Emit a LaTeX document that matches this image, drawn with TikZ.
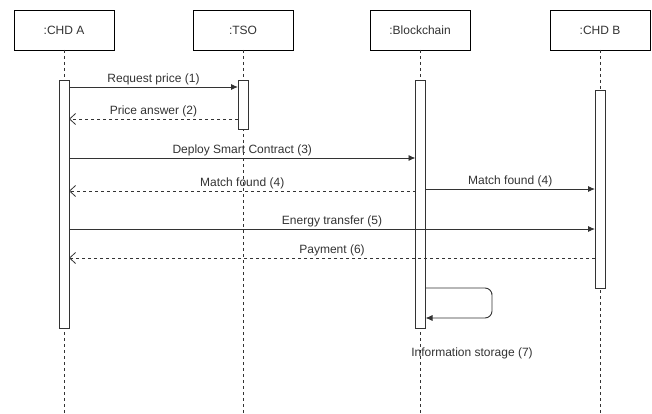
\documentclass[tikz,border=0pt]{standalone}
\usepackage{fontspec}
\setmainfont{Liberation Sans}
\usetikzlibrary{arrows.meta}
\definecolor{ink}{HTML}{333333}

\tikzset{
  actor/.style={draw=black,fill=white,minimum width=100pt,minimum height=40pt,
    inner sep=0pt,outer sep=0pt,line width=0.8pt},
  bar/.style={draw=ink,fill=white,minimum width=10pt,inner sep=0pt,outer sep=0pt,line width=0.8pt},
  lifeline/.style={draw=ink,line width=0.8pt,dash pattern=on 3pt off 3pt},
  msg/.style={draw=ink,line width=0.9pt,-{Latex[length=7pt,width=6pt]}},
  reply/.style={draw=ink,line width=0.8pt,dash pattern=on 3pt off 3pt,
    -{Straight Barb[length=6pt,width=11pt]}},
  lbl/.style={text=ink,font=\fontsize{12}{14}\selectfont,inner sep=1.5pt}
}

\begin{document}
\begin{tikzpicture}[x=1pt,y=-1pt]
  \useasboundingbox (0,0) rectangle (652,414);
  % participants
  \node[actor,lbl,inner sep=0pt] (chdA) at (64,30) {:CHD A};
  \node[actor,lbl,inner sep=0pt] (tso) at (243,30) {:TSO};
  \node[actor,lbl,inner sep=0pt] (chain) at (420,30) {:Blockchain};
  \node[actor,lbl,inner sep=0pt] (chdB) at (600,30) {:CHD B};
  \coordinate (bottom) at (0,414);
  % lifelines
  \foreach \p in {chdA,tso,chain,chdB}
    \draw[lifeline] (\p) -- (\p |- bottom);
  % activation bars
  \node[bar,minimum height=248pt] (actA) at (64,204) {};
  \node[bar,minimum height=49pt] (actT) at (243,104.5) {};
  \node[bar,minimum height=248pt] (actC) at (420.5,204) {};
  \node[bar,minimum height=198pt] (actB) at (600,189) {};
  % message rows
  \coordinate (y1) at (0,87);
  \coordinate (y2) at (0,119);
  \coordinate (y3) at (0,158);
  \coordinate (y4) at (0,191);
  \coordinate (y4b) at (0,189);
  \coordinate (y5) at (0,229);
  \coordinate (y6) at (0,258);
  \coordinate (y7a) at (0,288);
  \coordinate (y7b) at (0,318);
  \coordinate (loop) at (492,300);
  % messages
  \draw[msg] (actA.east |- y1) -- (actT.west |- y1) node[lbl,midway,above]{Request price (1)};
  \draw[reply] (actT.west |- y2) -- (actA.east |- y2) node[lbl,midway,above]{Price answer (2)};
  \draw[msg] (actA.east |- y3) -- (actC.west |- y3) node[lbl,midway,above]{Deploy Smart Contract (3)};
  \draw[reply] (actC.west |- y4) -- (actA.east |- y4) node[lbl,midway,above]{Match found (4)};
  \draw[msg] (actC.east |- y4b) -- (actB.west |- y4b) node[lbl,midway,above]{Match found (4)};
  \draw[msg] (actA.east |- y5) -- (actB.west |- y5) node[lbl,midway,above]{Energy transfer (5)};
  \draw[reply] (actB.west |- y6) -- (actA.east |- y6) node[lbl,midway,above]{Payment (6)};
  % self call
  \draw[msg,rounded corners=7pt] (actC.east |- y7a) -| (loop) |- (actC.east |- y7b);
  \node[lbl] (store) at (472,353) {Information storage (7)};
\end{tikzpicture}
\end{document}
